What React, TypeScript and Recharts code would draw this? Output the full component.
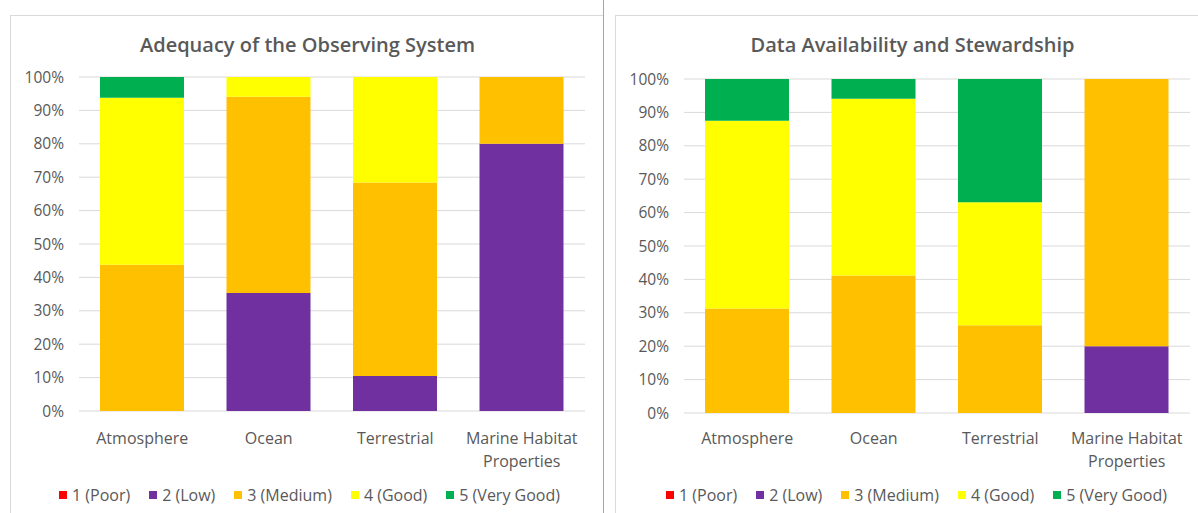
import React from "react";
import { BarChart, Bar, XAxis, YAxis, CartesianGrid, Legend } from "recharts";

const FONT = "'Open Sans', 'Liberation Sans', sans-serif";
const TEXT = "#595959";

const categories = ["Atmosphere", "Ocean", "Terrestrial", "Marine Habitat\nProperties"];
const ratingLabels = ["1 (Poor)", "2 (Low)", "3 (Medium)", "4 (Good)", "5 (Very Good)"];
const ratingColors = ["#FF0000", "#7030A0", "#FFC000", "#FFFF00", "#00B050"];
const percentTicks = [0, 10, 20, 30, 40, 50, 60, 70, 80, 90, 100];

// Adequacy of the Observing System (% of variables per rating)
const adequacyPoor = [0, 0, 0, 0];
const adequacyLow = [0, 35.3, 10.5, 80];
const adequacyMedium = [43.8, 58.8, 57.9, 20];
const adequacyGood = [50, 5.9, 31.6, 0];
const adequacyVeryGood = [6.2, 0, 0, 0];

// Data Availability and Stewardship
const stewardshipPoor = [0, 0, 0, 0];
const stewardshipLow = [0, 0, 0, 20];
const stewardshipMedium = [31.3, 41.2, 26.3, 80];
const stewardshipGood = [56.2, 52.9, 36.8, 0];
const stewardshipVeryGood = [12.5, 5.9, 36.9, 0];

const buildRows = (series: number[][]) =>
  categories.map((category, i) => {
    const row: any = { category };
    series.forEach((s, k) => {
      row["r" + k] = s[i];
    });
    return row;
  });

const adequacyRows = buildRows([adequacyPoor, adequacyLow, adequacyMedium, adequacyGood, adequacyVeryGood]);
const stewardshipRows = buildRows([
  stewardshipPoor,
  stewardshipLow,
  stewardshipMedium,
  stewardshipGood,
  stewardshipVeryGood,
]);

const CategoryTick = ({ x, y, payload, offset }: any) => {
  const lines = String(payload.value).split("\n");
  return (
    <text x={x} y={y} textAnchor="middle" fill={TEXT} fontSize={16} fontFamily={FONT}>
      {lines.map((line, i) => (
        <tspan key={i} x={x} dy={i === 0 ? offset : 23}>
          {line}
        </tspan>
      ))}
    </text>
  );
};

const RatingLegend = ({ payload, shift }: any) => (
  <div
    style={{
      display: "flex",
      justifyContent: "center",
      alignItems: "center",
      gap: 19,
      height: 24,
      paddingLeft: shift,
      fontFamily: FONT,
      fontSize: 16,
      color: TEXT,
    }}
  >
    {(payload || []).map((p: any) => (
      <span key={p.value} style={{ display: "flex", alignItems: "center", whiteSpace: "nowrap" }}>
        <span style={{ width: 8, height: 8, background: p.color, marginRight: 5 }} />
        {p.value}
      </span>
    ))}
  </div>
);

function RatingChart({ title, rows, left, plotTop, legendShift }: any) {
  return (
    <div
      style={{
        position: "absolute",
        left,
        top: 15,
        width: 594,
        height: 498,
        borderLeft: "1px solid #d9d9d9",
        borderTop: "1px solid #d9d9d9",
        boxSizing: "border-box",
      }}
    >
      <div
        style={{
          position: "absolute",
          top: 16,
          width: "100%",
          textAlign: "center",
          fontFamily: FONT,
          fontSize: 20,
          fontWeight: 600,
          lineHeight: "26px",
          color: TEXT,
        }}
      >
        {title}
      </div>
      <div style={{ position: "absolute", left: -1, top: -1 }}>
        <BarChart
          width={594}
          height={498}
          data={rows}
          margin={{ top: plotTop, right: 19, left: 0, bottom: 6 }}
        >
          <CartesianGrid horizontal vertical={false} stroke="#d9d9d9" />
          <XAxis
            dataKey="category"
            axisLine={false}
            tickLine={false}
            tickSize={0}
            height={468 - 396 - (plotTop - 62)}
            interval={0}
            tick={<CategoryTick offset={31 - (plotTop - 62)} />}
          />
          <YAxis
            width={69}
            domain={[0, 100]}
            ticks={percentTicks}
            axisLine={false}
            tickLine={false}
            tickSize={0}
            tickMargin={15}
            tickFormatter={(v) => `${v}%`}
            tick={{ fill: TEXT, fontSize: 15.5, fontFamily: FONT }}
          />
          <Legend verticalAlign="bottom" content={<RatingLegend shift={legendShift} />} />
          {ratingLabels.map((label, k) => (
            <Bar
              key={label}
              dataKey={"r" + k}
              name={label}
              stackId="a"
              fill={ratingColors[k]}
              barSize={84}
              legendType="square"
              isAnimationActive={false}
            />
          ))}
        </BarChart>
      </div>
    </div>
  );
}

export default function App() {
  return (
    <div
      style={{
        position: "absolute",
        left: 0,
        top: 0,
        width: 1198,
        height: 513,
        background: "#fff",
        overflow: "hidden",
      }}
    >
      <RatingChart
        title="Adequacy of the Observing System"
        rows={adequacyRows}
        left={10}
        plotTop={62}
        legendShift={24}
      />
      <div style={{ position: "absolute", left: 603, top: 0, width: 1, height: 513, background: "#a6a6a6" }} />
      <RatingChart
        title="Data Availability and Stewardship"
        rows={stewardshipRows}
        left={615}
        plotTop={64}
        legendShift={28}
      />
    </div>
  );
}
